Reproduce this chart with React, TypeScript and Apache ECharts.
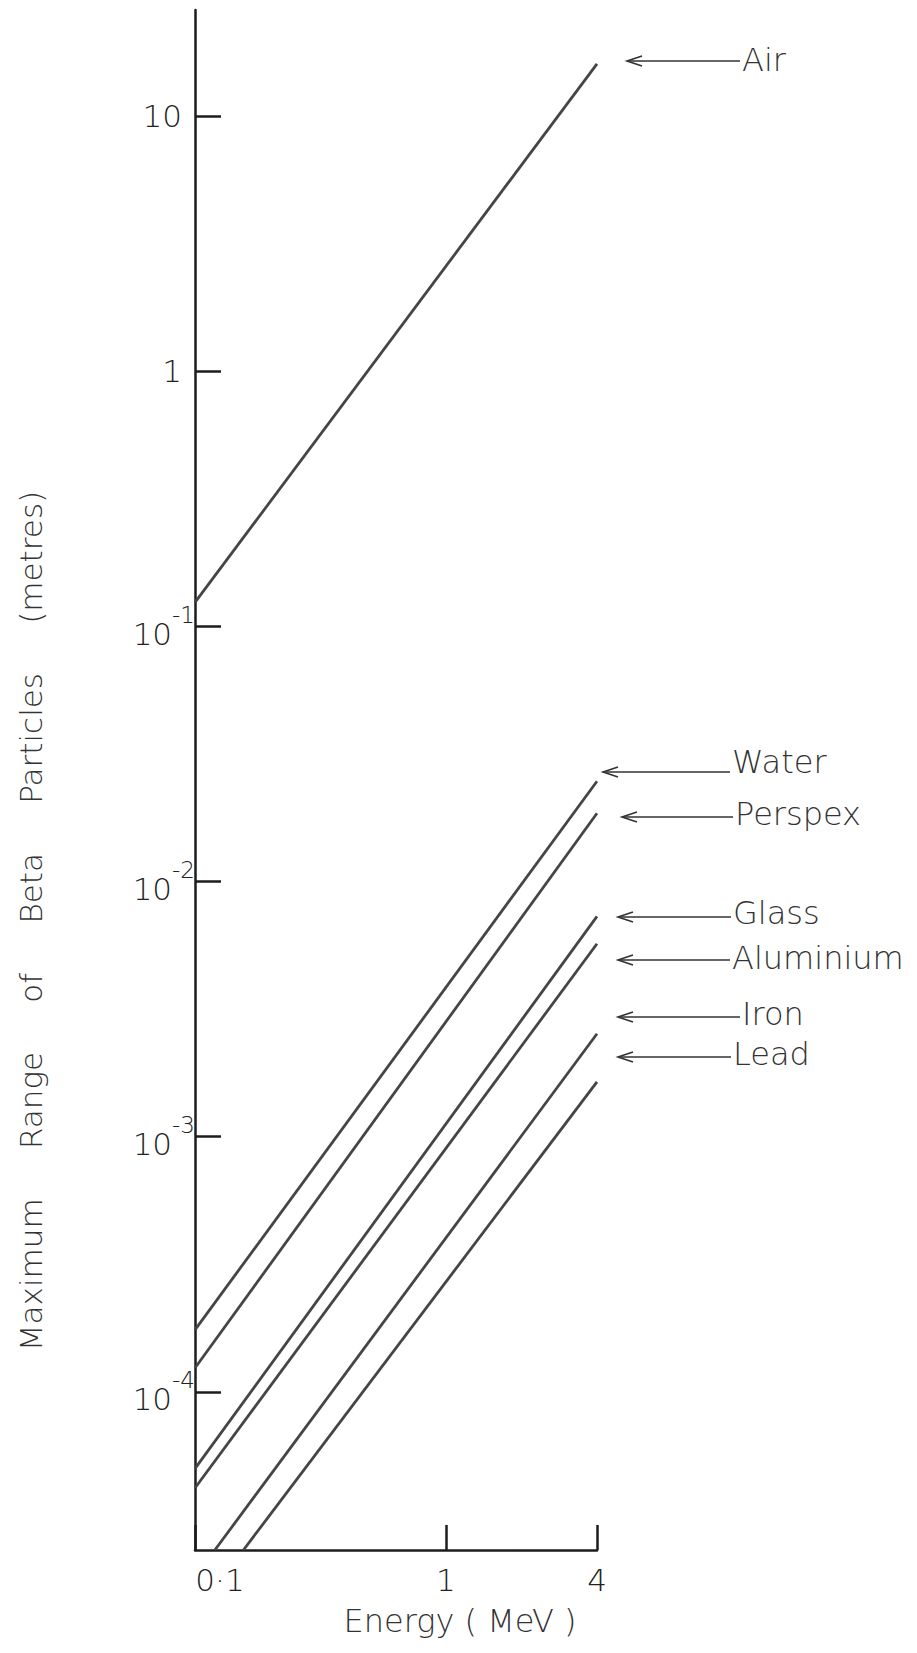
import React, { useEffect, useRef } from 'react';
import * as echarts from 'echarts';

// ---- data ----
const materials = ['Air', 'Water', 'Perspex', 'Glass', 'Aluminium', 'Iron', 'Lead'];
const startEnergy = [0.1, 0.1, 0.1, 0.1, 0.1, 0.12, 0.156]; // MeV
const startRange = [0.124, 1.75e-4, 1.24e-4, 5.0e-5, 4.2e-5, 2.4e-5, 2.4e-5]; // metres
const endEnergy = [4, 4, 4, 4, 4, 4, 4]; // MeV
const endRange = [16, 0.0247, 0.0185, 7.3e-3, 5.7e-3, 2.53e-3, 1.64e-3]; // metres

const energyTicks = [0.1, 1, 4];
const energyTickLabels = ['0·1', '1', '4'];
const rangeTicks = [1e-4, 1e-3, 1e-2, 1e-1, 1, 10];
const rangeTickLabels = ['10^-4', '10^-3', '10^-2', '10^-1', '1', '10'];

const xAxisTitle = 'Energy ( MeV )';
const yAxisTitle = 'Maximum     Range     of     Beta     Particles     (metres)';

const FONT = '"DejaVu Sans", "Noto Sans", sans-serif';
const INK = '#1c1c1c';

export default function App() {
  const ref = useRef<HTMLDivElement>(null);

  useEffect(() => {
    if (!ref.current) return;
    const chart = echarts.init(ref.current, undefined, { renderer: 'svg' });

    // annotation layout (pixels) for the arrow + name labels on the right
    const labelLayout = [
      { ax1: 627, ax2: 740, ay: 61, tx: 742, ty: 60 },
      { ax1: 603, ax2: 730, ay: 772, tx: 732, ty: 762 },
      { ax1: 622, ax2: 733, ay: 817, tx: 735, ty: 814 },
      { ax1: 618, ax2: 731, ay: 917, tx: 733, ty: 913 },
      { ax1: 618, ax2: 730, ay: 960, tx: 732, ty: 958 },
      { ax1: 618, ax2: 740, ay: 1017, tx: 742, ty: 1014 },
      { ax1: 618, ax2: 731, ay: 1057, tx: 733, ty: 1054 },
    ];

    const graphics: any[] = [];
    materials.forEach((name, i) => {
      const L = labelLayout[i];
      graphics.push({
        type: 'line',
        shape: { x1: L.ax1, y1: L.ay, x2: L.ax2, y2: L.ay },
        style: { stroke: '#333', lineWidth: 1.6 },
      });
      graphics.push({
        type: 'polyline',
        shape: { points: [[L.ax1 + 15, L.ay - 5], [L.ax1, L.ay], [L.ax1 + 15, L.ay + 5]] },
        style: { stroke: '#333', lineWidth: 1.6, fill: 'none' },
      });
      graphics.push({
        type: 'text',
        x: L.tx,
        y: L.ty,
        style: {
          text: name,
          font: `300 32px ${FONT}`,
          fill: '#333',
          align: 'left',
          verticalAlign: 'middle',
        },
      });
    });
    graphics.push({
      type: 'text',
      x: 460,
      y: 1621,
      style: { text: xAxisTitle, font: `300 32px ${FONT}`, fill: '#333', align: 'center', verticalAlign: 'middle' },
    });
    graphics.push({
      type: 'text',
      x: 31,
      y: 921,
      rotation: Math.PI / 2,
      style: { text: yAxisTitle, font: `300 31px ${FONT}`, fill: '#333', align: 'center', verticalAlign: 'middle' },
    });

    const series = materials.map((name, i) => ({
      name,
      type: 'line',
      showSymbol: false,
      silent: true,
      clip: true,
      data: [
        [startEnergy[i], startRange[i]],
        [endEnergy[i], endRange[i]],
      ],
      lineStyle: { color: '#454545', width: 2.8 },
    }));

    chart.setOption({
      animation: false,
      backgroundColor: '#ffffff',
      grid: { left: 195, right: 320, top: 10, bottom: 103, containLabel: false },
      xAxis: {
        type: 'log',
        logBase: 10,
        min: 0.1,
        max: 4,
        axisLine: { show: true, lineStyle: { color: INK, width: 2.5 } },
        axisTick: {
          show: true,
          inside: true,
          length: 25,
          lineStyle: { color: INK, width: 2.5 },
          customValues: energyTicks,
        },
        minorTick: { show: false },
        splitLine: { show: false },
        axisLabel: {
          customValues: energyTicks,
          margin: 14,
          color: '#222',
          fontFamily: FONT,
          fontSize: 31,
          fontWeight: 300,
          formatter: (v: number) => {
            let idx = 0;
            energyTicks.forEach((t, k) => {
              if (Math.abs(Math.log10(t) - Math.log10(v)) < Math.abs(Math.log10(energyTicks[idx]) - Math.log10(v))) idx = k;
            });
            const s = energyTickLabels[idx];
            return idx === 0 ? `{z|${s}}` : s;
          },
          rich: {
            z: { fontFamily: FONT, fontSize: 31, fontWeight: 300, color: '#222', padding: [0, 0, 0, 50] },
          },
        },
      },
      yAxis: {
        type: 'log',
        logBase: 10,
        min: 2.4e-5,
        max: 26,
        axisLine: { show: true, lineStyle: { color: INK, width: 2.5 } },
        axisTick: {
          show: true,
          inside: true,
          length: 26,
          lineStyle: { color: INK, width: 2.5 },
          customValues: rangeTicks,
        },
        minorTick: { show: false },
        splitLine: { show: false },
        axisLabel: {
          customValues: rangeTicks,
          margin: 0,
          align: 'right',
          verticalAlign: 'middle',
          formatter: (v: number) => {
            let idx = 0;
            rangeTicks.forEach((t, k) => {
              if (Math.abs(Math.log10(t) - Math.log10(v)) < Math.abs(Math.log10(rangeTicks[idx]) - Math.log10(v))) idx = k;
            });
            const s = rangeTickLabels[idx];
            if (s.indexOf('^') >= 0) {
              const [b, e] = s.split('^');
              return `{b|${b}}{s|${e}}`;
            }
            return `{p|${s}}`;
          },
          rich: {
            b: { fontFamily: FONT, fontSize: 31, fontWeight: 300, color: '#222', lineHeight: 46, verticalAlign: 'bottom' },
            s: { fontFamily: FONT, fontSize: 23, fontWeight: 300, color: '#222', lineHeight: 20, verticalAlign: 'top' },
            p: { fontFamily: FONT, fontSize: 31, fontWeight: 300, color: '#222', lineHeight: 46, padding: [0, 13, 0, 0] },
          },
        },
      },
      series,
      graphic: graphics,
    });

    return () => chart.dispose();
  }, []);

  return (
    <div
      ref={ref}
      style={{ position: 'absolute', left: 0, top: 0, width: 917, height: 1653, background: '#fff' }}
    />
  );
}
